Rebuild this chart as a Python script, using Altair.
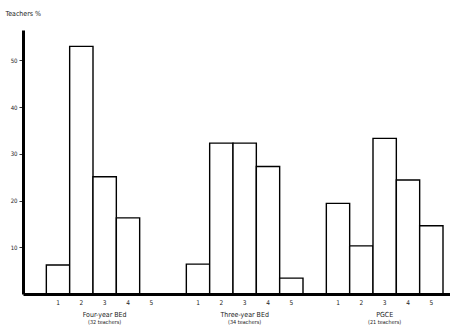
import altair as alt
import pandas as pd

groups = ["Four-year BEd", "Three-year BEd", "PGCE"]
notes = ["(32 teachers)", "(34 teachers)", "(21 teachers)"]
categories = [1, 2, 3, 4, 5]
four_year = [6.2, 53.0, 25.1, 16.3, 0.0]
three_year = [6.4, 32.3, 32.3, 27.3, 3.4]
pgce = [19.4, 10.3, 33.3, 24.4, 14.6]
y_ticks = [10, 20, 30, 40, 50]

rows = []
for gi, (g, vals) in enumerate(zip(groups, [four_year, three_year, pgce])):
    for ci, (c, v) in enumerate(zip(categories, vals)):
        s = gi * 6 + ci
        rows.append({"group": g, "cat": str(c), "value": v,
                     "start": s, "end": s + 1, "mid": s + 0.5})
df = pd.DataFrame(rows)
df_bars = df[df["value"] > 0]

grows = []
for gi, (g, n) in enumerate(zip(groups, notes)):
    grows.append({"group": g, "note": n, "mid": gi * 6 + 2.5})
dg = pd.DataFrame(grows)

FONT = "DejaVu Sans Condensed"
xscale = alt.Scale(domain=[-1, 17.3], nice=False, zero=False)
yscale = alt.Scale(domain=[0, 56.5], nice=False)

bars = alt.Chart(df_bars).mark_rect(
    fill="white", stroke="black", strokeWidth=1.4
).encode(
    x=alt.X("start:Q", scale=xscale,
            axis=alt.Axis(title=None, labels=False, ticks=False, grid=False,
                          domainColor="black", domainWidth=3, zindex=1)),
    x2="end:Q",
    y=alt.Y("value:Q", scale=yscale,
            axis=alt.Axis(values=y_ticks, title="Teachers %", titleAngle=0,
                          titleAlign="left", titleBaseline="middle",
                          titleX=-18, titleY=-17, titleFont=FONT,
                          titleFontSize=7, titleFontWeight="normal",
                          titleColor="#222", labelFont=FONT, labelFontSize=6,
                          labelColor="#222", labelPadding=2, tickSize=4,
                          tickColor="#333", tickWidth=1, grid=False,
                          domainColor="black", domainWidth=3, zindex=1)),
    y2=alt.datum(0),
)

cat_labels = alt.Chart(df).mark_text(
    font=FONT, fontSize=6.5, color="#222"
).encode(
    x=alt.X("mid:Q", scale=xscale),
    y=alt.value(273),
    text="cat:N",
)

group_labels = alt.Chart(dg).mark_text(
    font=FONT, fontSize=7, color="#222"
).encode(
    x=alt.X("mid:Q", scale=xscale),
    y=alt.value(285),
    text="group:N",
)

note_labels = alt.Chart(dg).mark_text(
    font=FONT, fontSize=5.5, color="#222"
).encode(
    x=alt.X("mid:Q", scale=xscale),
    y=alt.value(292),
    text="note:N",
)

chart = alt.layer(bars, cat_labels, group_labels, note_labels).properties(
    width=427, height=264,
    autosize=alt.AutoSizeParams(type="none"),
    padding={"left": 23, "top": 30, "right": 0, "bottom": 34},
    background="white",
).configure_view(stroke=None)

chart.save("out.html", embed_options={"renderer": "svg", "actions": False})
